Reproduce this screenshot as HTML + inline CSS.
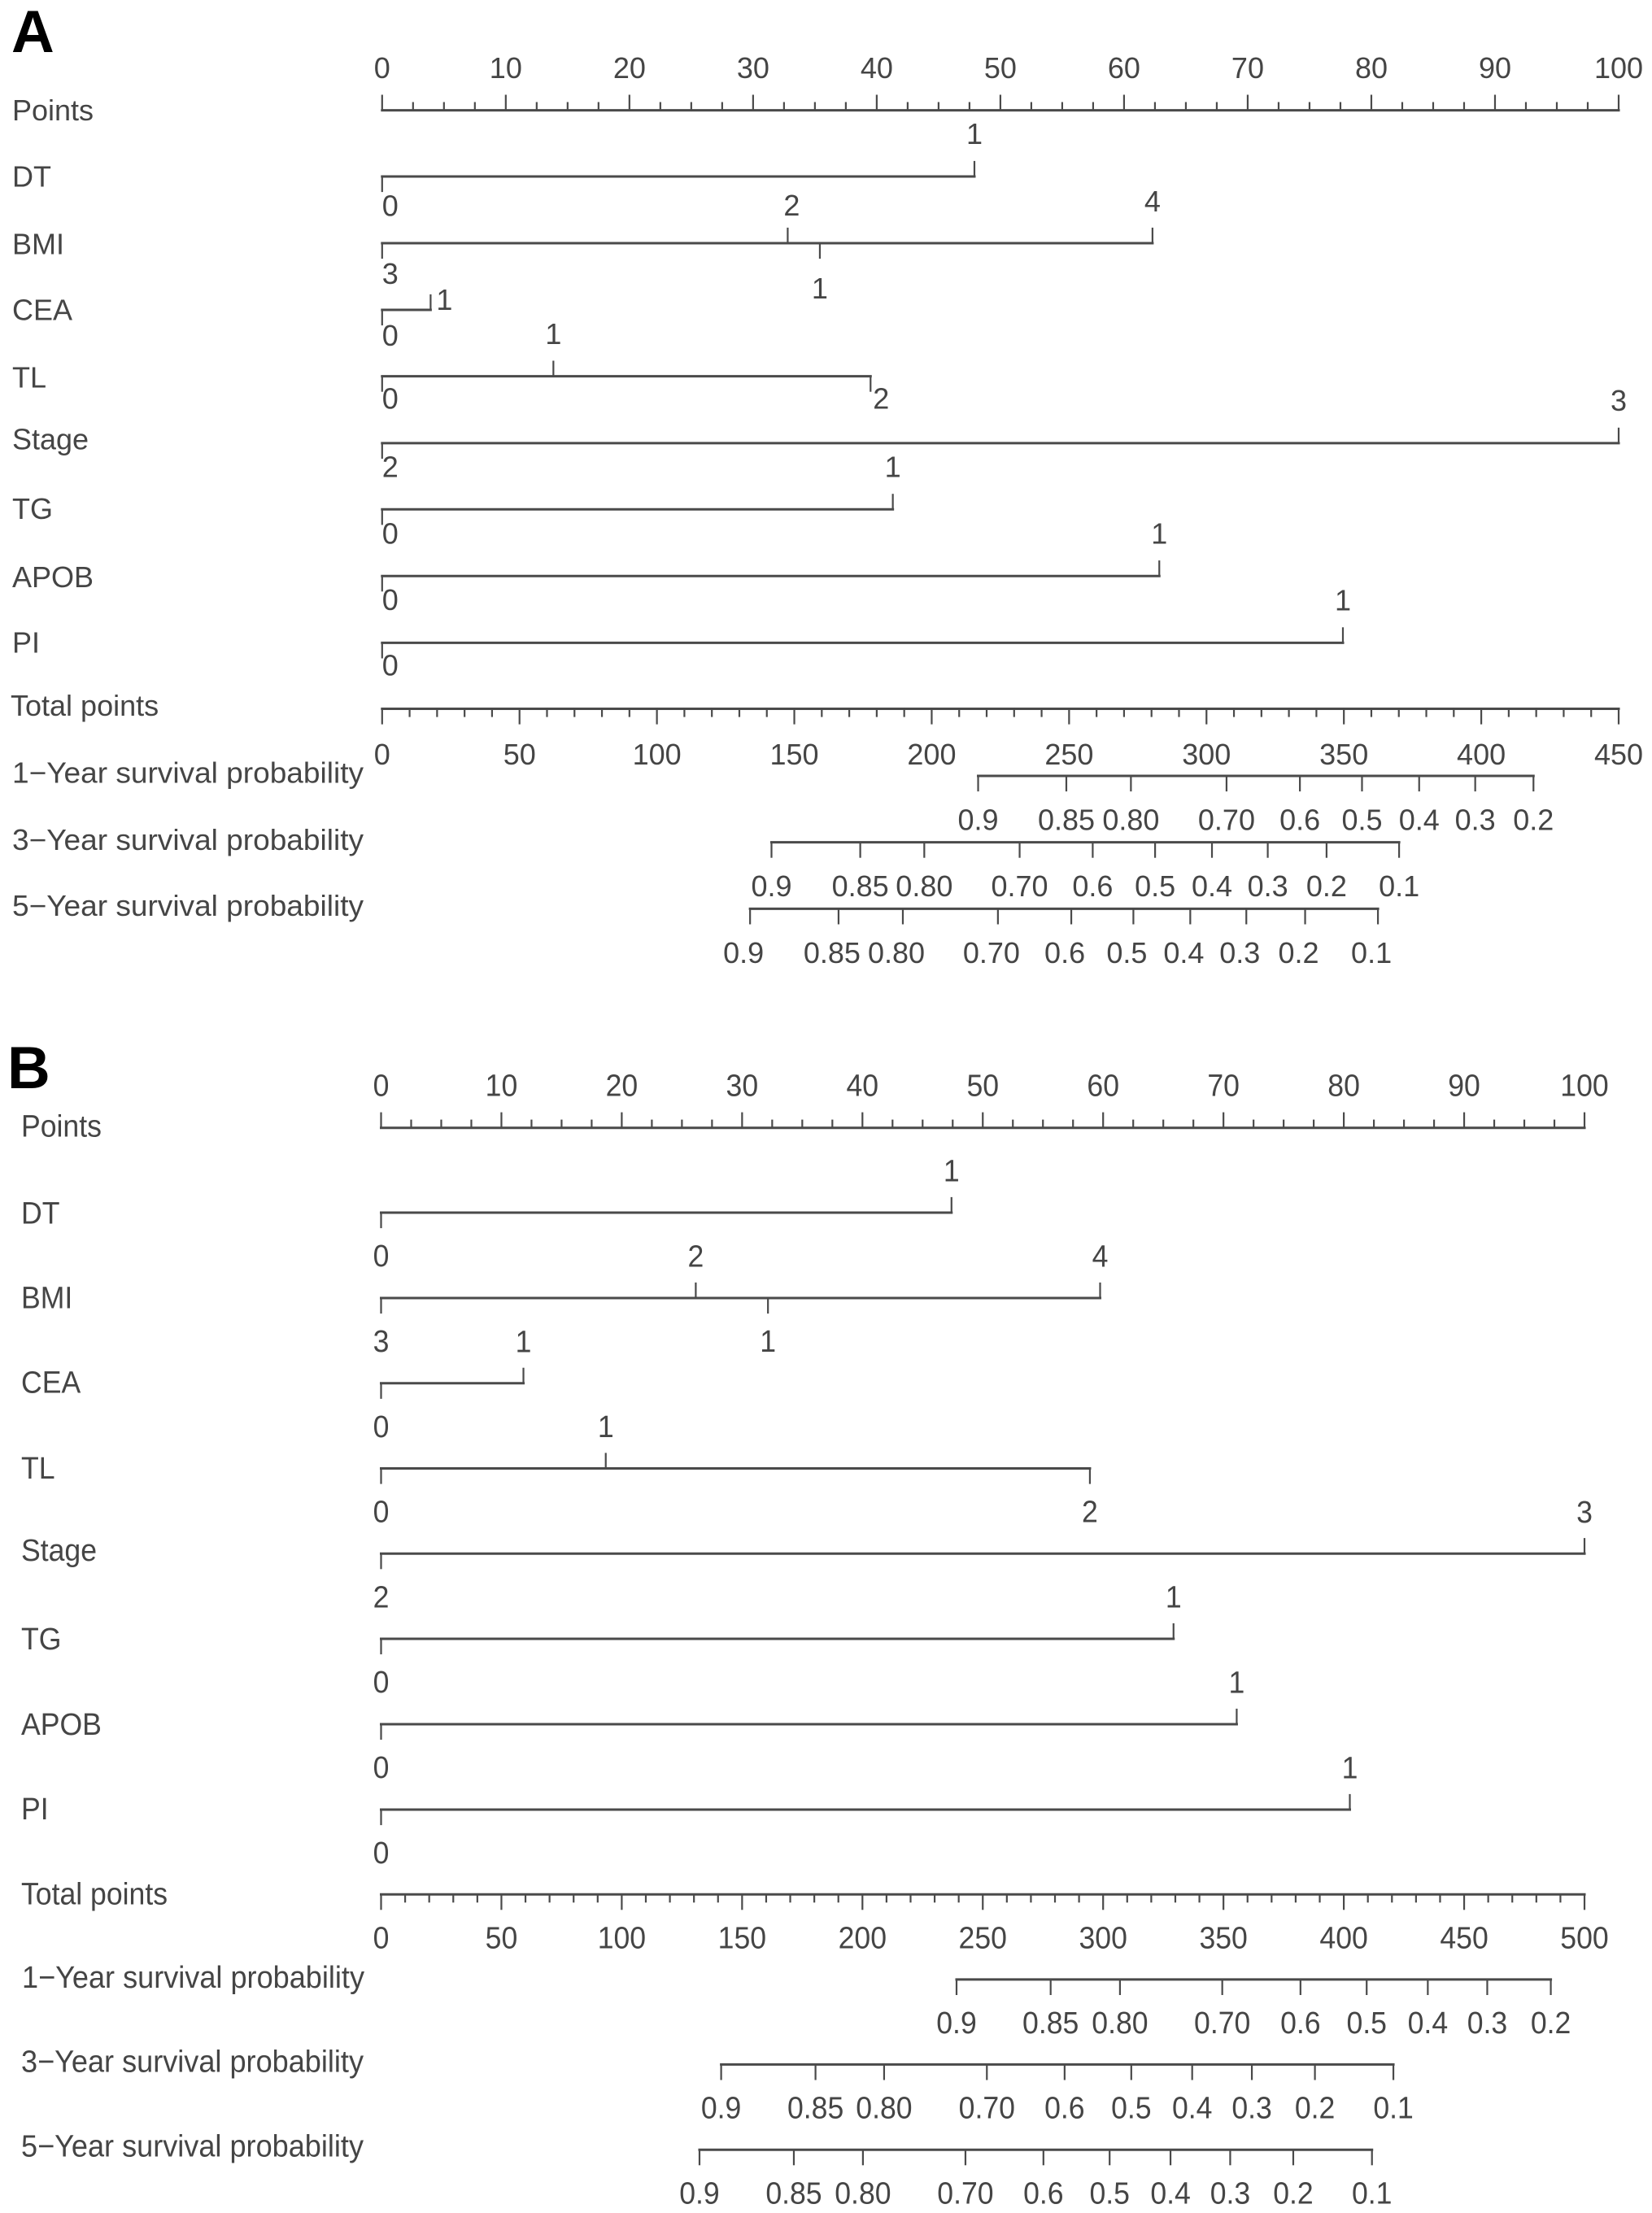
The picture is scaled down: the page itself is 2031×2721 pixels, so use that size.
<!DOCTYPE html>
<html lang="en">
<head>
<meta charset="utf-8">
<title>Nomograms A and B</title>
<style>
html,body{margin:0;padding:0;background:#fff;}
svg{display:block;}
text{font-family:"Liberation Sans",Arial,sans-serif;fill:#454545;}
.letter{font-weight:bold;fill:#000;}
</style>
</head>
<body>
<svg id="chart" xmlns="http://www.w3.org/2000/svg" width="2031" height="2721" viewBox="0 0 2031 2721">
<rect x="0" y="0" width="2031" height="2721" fill="#ffffff"/>
</svg>
<script>
// ---------- shared tick values ----------
const pointsMajorTicks = [0,10,20,30,40,50,60,70,80,90,100];
const rowNames = ['DT','BMI','CEA','TL','Stage','TG','APOB','PI'];
const survivalTitles = ['1\u2212Year survival probability','3\u2212Year survival probability','5\u2212Year survival probability'];
const survivalLabels1Y = ['0.9','0.85','0.80','0.70','0.6','0.5','0.4','0.3','0.2'];
const survivalLabels3Y = ['0.9','0.85','0.80','0.70','0.6','0.5','0.4','0.3','0.2','0.1'];
const survivalLabels5Y = ['0.9','0.85','0.80','0.70','0.6','0.5','0.4','0.3','0.2','0.1'];

// ---------- level labels (shared by both panels) ----------
const levelsDT = ['0','1'];
const levelsBMI = ['3','2','1','4'];
const levelsCEA = ['0','1'];
const levelsTL = ['0','1','2'];
const levelsStage = ['2','3'];
const levelsTG = ['0','1'];
const levelsAPOB = ['0','1'];
const levelsPI = ['0','1'];
const sidesDT = ['down','up'];
const sidesBMI = ['down','up','down','up'];
const sidesCEA = ['down','up'];
const sidesTL = ['down','up','down'];
const sidesStage = ['down','up'];
const sidesTG = ['down','up'];
const sidesAPOB = ['down','up'];
const sidesPI = ['down','up'];

// ---------- panel A values ----------
const totalMaxA = 450;
const pointsA_DT = [0,47.9];
const pointsA_BMI = [0,32.8,35.4,62.3];
const pointsA_CEA = [0,3.92];
const pointsA_TL = [0,13.85,39.5];
const pointsA_Stage = [0,100];
const pointsA_TG = [0,41.3];
const pointsA_APOB = [0,62.85];
const pointsA_PI = [0,77.7];
const survivalA_1Y = [216.9,249,272.5,307.3,334,356.6,377.4,397.8,419];
const survivalA_3Y = [141.7,174,197.3,232,258.6,281.3,302,322.3,343.7,370.1];
const survivalA_5Y = [133.9,166.1,189.5,224.1,250.8,273.4,294.1,314.5,335.9,362.4];

// ---------- panel B values ----------
const totalMaxB = 500;
const pointsB_DT = [0,47.4];
const pointsB_BMI = [0,26.15,32.15,59.75];
const pointsB_CEA = [0,11.83];
const pointsB_TL = [0,18.67,58.9];
const pointsB_Stage = [0,100];
const pointsB_TG = [0,65.85];
const pointsB_APOB = [0,71.1];
const pointsB_PI = [0,80.5];
const survivalB_1Y = [239.1,278.2,307,349.5,382,409.5,434.9,459.6,486];
const survivalB_3Y = [141.3,180.5,209,251.7,284,311.7,337,361.8,388,420.6];
const survivalB_5Y = [132.3,171.5,200.2,242.8,275.2,302.7,328,352.8,379,411.7];

// ---------- layout (not data) ----------
const layoutA = {
  x0:469.8, x1:1990, fontSize:36, ky:1.0, digitHalf:13,
  letter:'A', letterX:14, letterY:64,
  axisYPoints:135.6, rowYs:[217,299,381,462.6,544.9,626.3,708.2,790.4], axisYTotal:871.5, survYs:[954,1035.6,1117.4],
  titleX:15, titleXs:{total:13, s1:15, s3:15, s5:15},
  titleBaselines:{points:148, rows:[229.3,312.4,393.4,476.5,552.4,638,722,802.7], total:880, surv:[962.4,1045,1126]},
  pointsLabelDy:-52.6, totalLabelDy:55.5, survLabelDy:53.4,
  survDx:[0,0,-8],
  survTitleWidth:432,
  defaultAbove:-52.8, defaultBelow:29,
  nudges:{
    'DT:0':[10,35.7],'BMI:3':[10,37],'BMI:2':[5,-47],'BMI:1':[0,55],'BMI:4':[0,-52],
    'CEA:0':[10,31],'CEA:1':[17,-13],'TL:0':[10,27],'TL:2':[13,27],
    'Stage:2':[10,28.5],'TG:0':[10,29],'APOB:0':[10,29],'PI:0':[10,27]
  }
};
const layoutB = {
  x0:468.5, x1:1948, fontSize:35.6, ky:1.06, digitHalf:13.6,
  letter:'B', letterX:9, letterY:1338,
  axisYPoints:1386.7, rowYs:[1491,1596,1700.8,1805.5,1910.2,2015,2120,2225], axisYTotal:2329.2, survYs:[2433.9,2538.4,2643.2],
  titleX:26, titleXs:{total:26, s1:27, s3:26, s5:26},
  titleBaselines:{points:1397.7, rows:[1504.3,1608.3,1712.7,1818,1919,2028,2133,2237], total:2341.7, surv:[2444,2547.3,2651.7]},
  pointsLabelDy:-52.7, totalLabelDy:52.7, survLabelDy:52.7,
  survDx:[0,0,0],
  survTitleWidth:421,
  defaultAbove:-52, defaultBelow:52.5,
  nudges:{}
};

const svg = document.getElementById('chart');
const NS = 'http://www.w3.org/2000/svg';
const LINE_COLOR = '#4a4a4a';
const MAJOR = 18;
const MINOR = 9;

function drawLine(parent, x1, y1, x2, y2, name) {
  const el = document.createElementNS(NS, 'line');
  el.setAttribute('x1', x1);
  el.setAttribute('y1', y1);
  el.setAttribute('x2', x2);
  el.setAttribute('y2', y2);
  el.setAttribute('stroke', LINE_COLOR);
  el.setAttribute('stroke-width', y1 === y2 ? '3' : '2.2');
  el.setAttribute('stroke-linecap', 'square');
  
  
  parent.appendChild(el);
  return el;
}

function drawText(parent, str, x, y, anchor, fs, ky, name, width) {
  const el = document.createElementNS(NS, 'text');
  el.setAttribute('transform', 'translate(' + x + ',' + y + ') scale(1,' + ky + ')');
  el.setAttribute('text-anchor', anchor);
  el.setAttribute('font-size', fs);
  if (width) {
    el.setAttribute('textLength', width);
    el.setAttribute('lengthAdjust', 'spacingAndGlyphs');
  }
  el.textContent = str;
  
  
  parent.appendChild(el);
  return el;
}

function drawPanel(L, rowPoints, rowLevels, rowSides, totalMax, surv, survLabels, totalMajor, totalMinorStep) {
  const g = document.createElementNS(NS, 'g');
  const tag = L.letter.toLowerCase();
  
  
  svg.appendChild(g);

  const xPoints = p => L.x0 + p * (L.x1 - L.x0) / 100;
  const xTotal = t => L.x0 + t * (L.x1 - L.x0) / totalMax;
  const label = (str, x, cy, name) => drawText(g, str, x, cy + L.digitHalf, 'middle', L.fontSize, L.ky, name);

  const letterEl = drawText(g, L.letter, L.letterX, L.letterY, 'start', 73, 1, 'panel-letter-' + tag);
  letterEl.setAttribute('class', 'letter');

  // Points axis
  drawText(g, 'Points', L.titleX, L.titleBaselines.points, 'start', L.fontSize, L.ky, 'points-title');
  drawLine(g, xPoints(0), L.axisYPoints, xPoints(100), L.axisYPoints, 'points-axis-line');
  pointsMajorTicks.forEach(v => {
    drawLine(g, xPoints(v), L.axisYPoints, xPoints(v), L.axisYPoints - MAJOR, 'points-major-tick');
    label(String(v), xPoints(v), L.axisYPoints + L.pointsLabelDy, 'points-tick-label');
  });
  for (let v = 2.5; v < 100; v += 2.5) {
    if (v % 10 !== 0) drawLine(g, xPoints(v), L.axisYPoints, xPoints(v), L.axisYPoints - MINOR, 'points-minor-tick');
  }

  // Predictor rows
  rowNames.forEach((rowName, r) => {
    const y = L.rowYs[r];
    const pts = rowPoints[r];
    const lev = rowLevels[r];
    const sid = rowSides[r];
    const key = rowName.toLowerCase();
    drawText(g, rowName, L.titleX, L.titleBaselines.rows[r], 'start', L.fontSize, L.ky, key + '-title');
    drawLine(g, xPoints(Math.min(...pts)), y, xPoints(Math.max(...pts)), y, key + '-axis-line');
    pts.forEach((p, i) => {
      const up = sid[i] === 'up';
      const x = xPoints(p);
      drawLine(g, x, y, x, up ? y - MAJOR : y + MAJOR, key + '-tick');
      const n = L.nudges[rowName + ':' + lev[i]] || [0, up ? L.defaultAbove : L.defaultBelow];
      label(lev[i], x + n[0], y + n[1], key + '-level-label');
    });
  });

  // Total points axis
  drawText(g, 'Total points', L.titleXs.total, L.titleBaselines.total, 'start', L.fontSize, L.ky, 'total-points-title');
  drawLine(g, xTotal(0), L.axisYTotal, xTotal(totalMax), L.axisYTotal, 'total-points-axis-line');
  totalMajor.forEach(v => {
    drawLine(g, xTotal(v), L.axisYTotal, xTotal(v), L.axisYTotal + MAJOR, 'total-points-major-tick');
    label(String(v), xTotal(v), L.axisYTotal + L.totalLabelDy, 'total-points-tick-label');
  });
  for (let v = totalMinorStep; v < totalMax; v += totalMinorStep) {
    if (v % 50 !== 0) drawLine(g, xTotal(v), L.axisYTotal, xTotal(v), L.axisYTotal + MINOR, 'total-points-minor-tick');
  }

  // Survival axes
  surv.forEach((vals, s) => {
    const y = L.survYs[s];
    const nm = ['1-year', '3-year', '5-year'][s];
    const tx = [L.titleXs.s1, L.titleXs.s3, L.titleXs.s5][s];
    drawText(g, survivalTitles[s], tx, L.titleBaselines.surv[s], 'start', L.fontSize, L.ky, nm + '-survival-title', L.survTitleWidth);
    drawLine(g, xTotal(Math.min(...vals)), y, xTotal(Math.max(...vals)), y, nm + '-survival-axis-line');
    vals.forEach((v, i) => {
      drawLine(g, xTotal(v), y, xTotal(v), y + MAJOR, nm + '-survival-tick');
      label(survLabels[s][i], xTotal(v) + L.survDx[s], y + L.survLabelDy, nm + '-survival-label');
    });
  });
}

const allLevels = [levelsDT, levelsBMI, levelsCEA, levelsTL, levelsStage, levelsTG, levelsAPOB, levelsPI];
const allSides = [sidesDT, sidesBMI, sidesCEA, sidesTL, sidesStage, sidesTG, sidesAPOB, sidesPI];
const allSurvLabels = [survivalLabels1Y, survivalLabels3Y, survivalLabels5Y];
const totalMajorA = [0,50,100,150,200,250,300,350,400,450];
const totalMajorB = [0,50,100,150,200,250,300,350,400,450,500];

drawPanel(layoutA,
  [pointsA_DT, pointsA_BMI, pointsA_CEA, pointsA_TL, pointsA_Stage, pointsA_TG, pointsA_APOB, pointsA_PI],
  allLevels, allSides, totalMaxA,
  [survivalA_1Y, survivalA_3Y, survivalA_5Y], allSurvLabels, totalMajorA, 10);

drawPanel(layoutB,
  [pointsB_DT, pointsB_BMI, pointsB_CEA, pointsB_TL, pointsB_Stage, pointsB_TG, pointsB_APOB, pointsB_PI],
  allLevels, allSides, totalMaxB,
  [survivalB_1Y, survivalB_3Y, survivalB_5Y], allSurvLabels, totalMajorB, 10);
</script>
</body>
</html>
